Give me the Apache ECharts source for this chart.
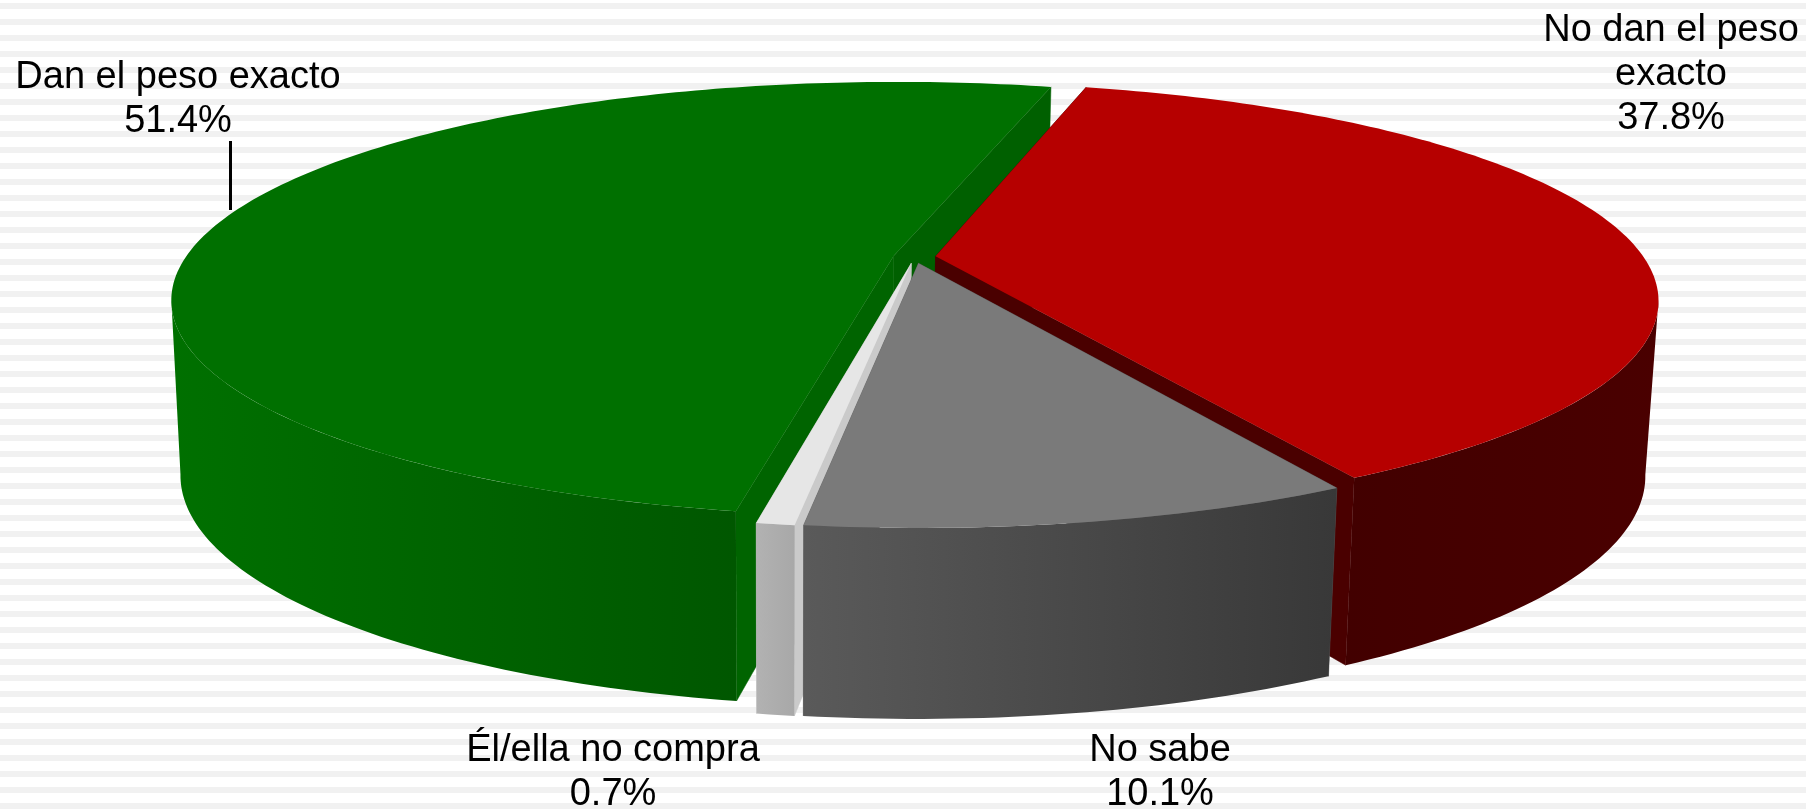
<!DOCTYPE html>
<html>
<head>
<meta charset="utf-8">
<title>Peso exacto</title>
<script src="https://cdn.jsdelivr.net/npm/echarts@6/dist/echarts.min.js"></script>
<style>
  html, body {
    margin: 0;
    height: 100%;
    background: repeating-linear-gradient(to bottom, #fff 0, #fff 3.5px, #f1f1f1 3.5px, #f1f1f1 9.5px, #fff 9.5px, #fff 16px);
  }
  #main {
    width: 100%;
    height: 100%;
  }
</style>
</head>
<body>
<div id="main"></div>
<script>
// clockwise from the front edge of the green slice
const categories = ['Dan el peso exacto', 'No dan el peso\nexacto', 'No sabe', 'Él/ella no compra']
const values = [51.4, 37.8, 10.1, 0.7]

// painter's order, back to front
const drawOrder = [0, 1, 3, 2]

const colorTop = ['#007000', '#b60000', '#7a7a7a', '#e6e6e6']
const colorWall = [['#007000', '#005700'], ['#420000', '#4a0000'], ['#5a5a5a', '#383838'], ['#b2b2b2', '#a8a8a8']]
const colorStartFace = ['#006400', '#4a0000', '#5a5a5a', '#cacaca']
const colorEndFace = ['#006000', '#4a0000', '#5a5a5a', '#cacaca']

const labelPos = [[178, 56], [1671, 9], [1160, 729], [613, 729]]

// projection of the tilted disc, fitted on the picture
const cx = 914.5, cy = 257
const a = 708, b = 209, k = 0.2
const explode = 0.03
const startAngle = 190
const bottomScaleX = 0.985, bottomScaleY = 1.07, bottomDrop = 172, bottomShift = -2

function project(u, v, bottom) {
  const w = 1 / (1 - k * v)
  const x = a * u * w
  const y = b * v * w
  if (!bottom) return [cx + x, cy + y]
  return [cx + bottomShift + x * bottomScaleX, cy + bottomDrop + y * bottomScaleY]
}

function polar(deg) {
  const r = deg * Math.PI / 180
  return [Math.sin(r), -Math.cos(r)]
}

const total = values.reduce((s, v) => s + v, 0)
let acc = startAngle
const slices = values.map((v) => {
  const from = acc
  acc += v / total * 360
  return { from: from, to: acc }
})

function rimPoints(s, from, to, bottom) {
  const mid = polar((s.from + s.to) / 2)
  const pts = []
  const steps = Math.max(2, Math.ceil(to - from))
  for (let i = 0; i <= steps; i++) {
    const p = polar(from + (to - from) * i / steps)
    pts.push(project(p[0] + mid[0] * explode, p[1] + mid[1] * explode, bottom))
  }
  return pts
}

function faceShape(s, deg, fill) {
  const mid = polar((s.from + s.to) / 2)
  const apexU = mid[0] * explode, apexV = mid[1] * explode
  const p = polar(deg)
  return {
    type: 'polygon',
    shape: {
      points: [
        project(apexU, apexV, false),
        project(apexU + p[0], apexV + p[1], false),
        project(apexU + p[0], apexV + p[1], true),
        project(apexU, apexV, true)
      ]
    },
    style: { fill: fill, stroke: fill, lineWidth: 0.5 }
  }
}

// only the part of the outer wall in front of the silhouette can be seen
function wallRange(s) {
  const shift = s.from >= 360 ? 360 : 0
  const edge = Math.acos(k) * 180 / Math.PI
  return [Math.max(s.from - shift, 180 - edge), Math.min(s.to - shift, 180 + edge)]
}

function renderSlice(params, api) {
  const i = api.value(0)
  const s = slices[i]
  const mid = polar((s.from + s.to) / 2)
  const children = []

  children.push(faceShape(s, s.to, colorEndFace[i]))
  children.push(faceShape(s, s.from, colorStartFace[i]))

  const range = wallRange(s)
  const wallTop = rimPoints(s, range[0], range[1], false)
  const wallBottom = rimPoints(s, range[0], range[1], true)
  const wallPts = wallTop.concat(wallBottom.slice().reverse())
  const xs = wallPts.map((p) => p[0])
  children.push({
    type: 'polygon',
    shape: { points: wallPts },
    style: {
      fill: new echarts.graphic.LinearGradient(Math.min(...xs), 0, Math.max(...xs), 0, [
        { offset: 0, color: colorWall[i][0] },
        { offset: 1, color: colorWall[i][1] }
      ], true)
    }
  })

  const apex = project(mid[0] * explode, mid[1] * explode, false)
  children.push({
    type: 'polygon',
    shape: { points: [apex].concat(rimPoints(s, s.from, s.to, false)) },
    style: { fill: colorTop[i] }
  })

  children.push({
    type: 'text',
    z2: 10,
    style: {
      x: labelPos[i][0],
      y: labelPos[i][1],
      text: categories[i] + '\n' + values[i].toFixed(1) + '%',
      fill: '#000',
      align: 'center',
      verticalAlign: 'top',
      fontFamily: 'Liberation Sans',
      fontSize: 38,
      lineHeight: 44
    }
  })

  return { type: 'group', children: children }
}

const myChart = echarts.init(document.getElementById('main'))

myChart.setOption({
  animation: false,
  backgroundColor: 'rgba(0,0,0,0)',
  series: [
    {
      type: 'custom',
      coordinateSystem: 'none',
      silent: true,
      renderItem: renderSlice,
      data: drawOrder.map((i) => [i])
    }
  ],
  graphic: [
    {
      type: 'line',
      z: 10,
      shape: { x1: 230.5, y1: 141, x2: 230.5, y2: 210 },
      style: { stroke: '#000', lineWidth: 3 }
    }
  ]
})
</script>
</body>
</html>
